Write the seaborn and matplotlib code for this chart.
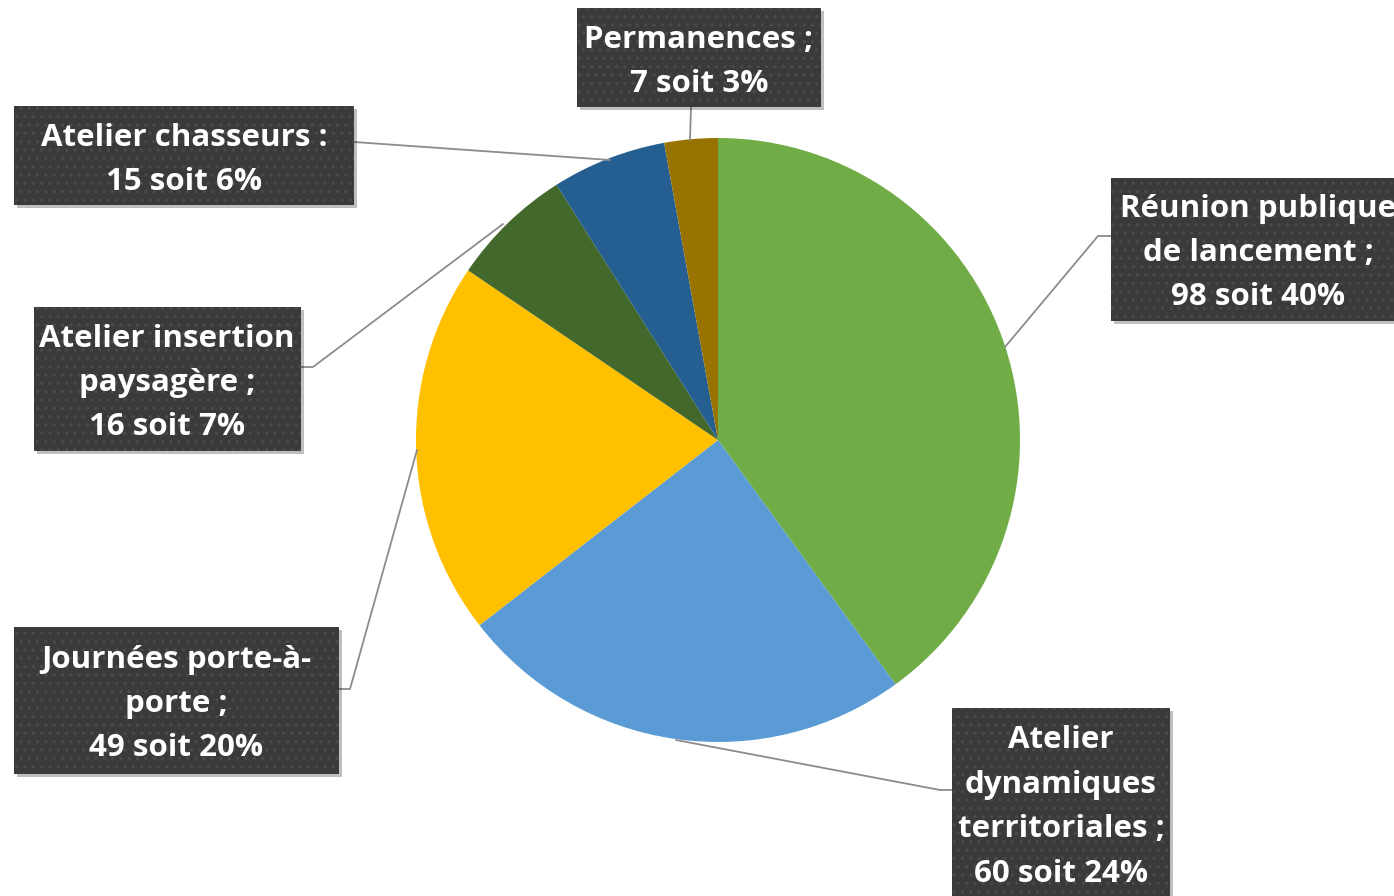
import matplotlib
matplotlib.use('Agg')
import matplotlib.pyplot as plt
import seaborn as sns
from matplotlib.patches import Rectangle

# chart data
categories = ['Réunion publique de lancement', 'Atelier dynamiques territoriales',
              'Journées porte-à-porte', 'Atelier insertion paysagère',
              'Atelier chasseurs', 'Permanences']
values = [98, 60, 49, 16, 15, 7]
label_texts = ['Réunion publique\nde lancement ;\n98 soit 40%',
               'Atelier\ndynamiques\nterritoriales ;\n60 soit 24%',
               'Journées porte-à-\nporte ;\n49 soit 20%',
               'Atelier insertion\npaysagère ;\n16 soit 7%',
               'Atelier chasseurs :\n15 soit 6%',
               'Permanences ;\n7 soit 3%']
colors = ['#70AD47', '#5B9BD5', '#FFC000', '#43682B', '#255E91', '#997300']

# label box layout in pixels: (x0, y0, x1, y1)
boxes = [(1111, 178, 1400, 321),
         (952, 708, 1170, 905),
         (14, 627, 339, 774),
         (34, 307, 301, 451),
         (14, 106, 354, 205),
         (577, 8, 821, 107)]
text_centers = [(1258, 253), (1061, 807), (176, 704), (167, 383), (184, 160), (699, 62)]
leaders = [[(1111, 236), (1098, 236), (1005, 347)],
           [(952, 790), (940, 790), (676, 740)],
           [(339, 689), (350, 689), (417, 450)],
           [(301, 367), (313, 367), (503, 224)],
           [(354, 142), (610, 160)],
           [(691, 107), (690, 140)]]

sns.set_theme(style='white')
plt.rcParams['font.family'] = ['Open Sans', 'DejaVu Sans']
plt.rcParams['hatch.linewidth'] = 1.2

fig = plt.figure(figsize=(13.94, 8.96), dpi=100)
ax = fig.add_axes([0, 0, 1, 1])

# y axis is flipped below, so -90 is the top and counterclock runs clockwise on screen
ax.pie(values, colors=colors, startangle=-90, counterclock=True,
       center=(718, 440), radius=302, frame=True,
       wedgeprops=dict(linewidth=0))
ax.set_xlim(0, 1394)
ax.set_ylim(896, 0)
ax.set_aspect('equal')
ax.axis('off')

for pts in leaders:
    xs = [p[0] for p in pts]
    ys = [p[1] for p in pts]
    ax.plot(xs, ys, color='#8c8c8c', lw=1.3, zorder=3)

for (x0, y0, x1, y1), txt, (cx, cy) in zip(boxes, label_texts, text_centers):
    ax.add_patch(Rectangle((x0 + 3, y0 + 3), x1 - x0, y1 - y0, facecolor='#000000',
                           alpha=0.25, lw=0, zorder=4))
    ax.add_patch(Rectangle((x0, y0), x1 - x0, y1 - y0, facecolor='#3a3a3a',
                           edgecolor='#4a4a4a', hatch='..', lw=0, zorder=5))
    ax.text(cx, cy, txt, ha='center', va='center', color='white', fontsize=22.5,
            fontweight='bold', linespacing=1.63, zorder=6)

fig.savefig('out.png', dpi=100)
